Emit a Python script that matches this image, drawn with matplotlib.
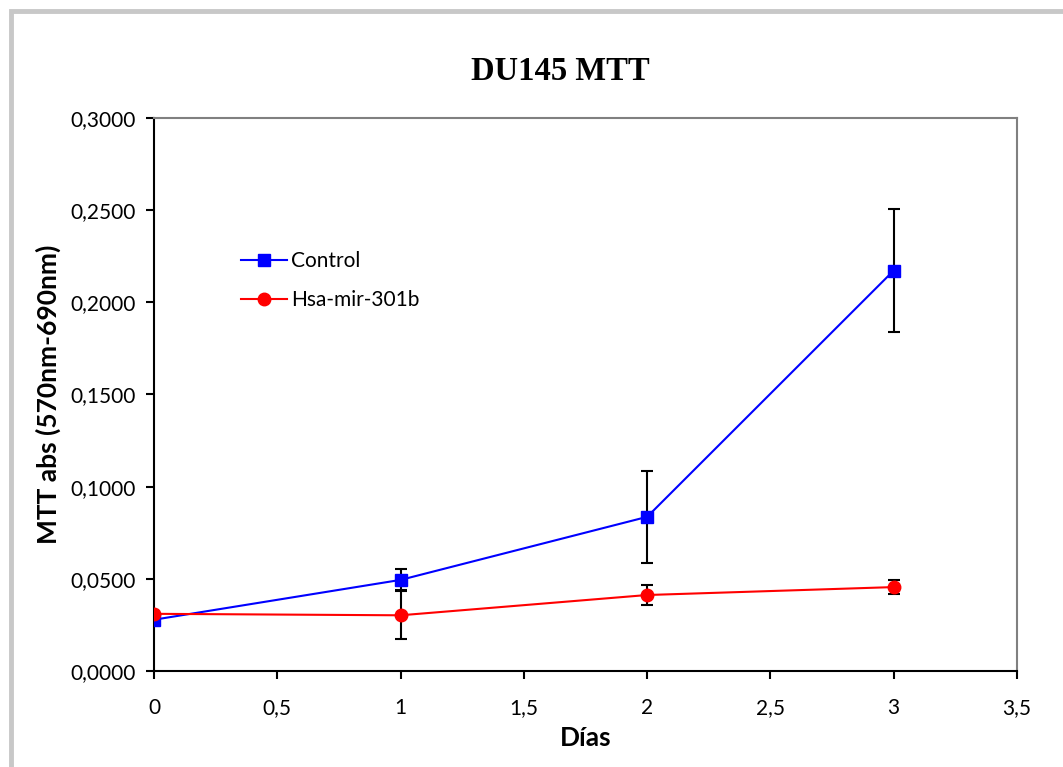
"""DU145 MTT assay: control vs Hsa-mir-301b over days."""

import matplotlib

matplotlib.use("Agg")
import matplotlib.pyplot as plt
from matplotlib.patches import Rectangle
from matplotlib.ticker import FuncFormatter

dias = [0, 1, 2, 3]
control = [0.0278, 0.0494, 0.0836, 0.2172]
control_err = [0.0, 0.0057, 0.0250, 0.0335]
mir301b = [0.0310, 0.0302, 0.0412, 0.0455]
mir301b_err = [0.0, 0.0130, 0.0055, 0.0040]

plt.rcParams["font.family"] = ["Lato", "DejaVu Sans"]

fig = plt.figure(figsize=(10.63, 7.67), dpi=100)
ax = fig.add_axes([0.1449, 0.1252, 0.8118, 0.7211])

# light grey chart frame, as in the spreadsheet export
fig.patches.append(Rectangle((0.0100, -0.01), 1.2, 0.9953, transform=fig.transFigure,
                             fill=False, edgecolor="#c8c8c8", linewidth=3.5))

ax.errorbar(dias, control, yerr=control_err, fmt="none", ecolor="black",
            elinewidth=1.5, capsize=4.5, capthick=1.5, zorder=2)
ax.errorbar(dias, mir301b, yerr=mir301b_err, fmt="none", ecolor="black",
            elinewidth=1.5, capsize=4.5, capthick=1.5, zorder=2)
ax.plot(dias, control, color="#0000ff", marker="s", markersize=9, linewidth=1.5,
        label="Control", zorder=3)
ax.plot(dias, mir301b, color="#ff0000", marker="o", markersize=9, linewidth=1.5,
        label="Hsa-mir-301b", zorder=3)

ax.set_xlim(0, 3.5)
ax.set_ylim(0, 0.3)
ax.set_xticks([0, 0.5, 1, 1.5, 2, 2.5, 3, 3.5])
ax.set_yticks([0, 0.05, 0.1, 0.15, 0.2, 0.25, 0.3])
ax.xaxis.set_major_formatter(FuncFormatter(lambda v, _: f"{v:g}".replace(".", ",")))
ax.yaxis.set_major_formatter(FuncFormatter(lambda v, _: f"{v:.4f}".replace(".", ",")))
ax.tick_params(direction="out", length=6, width=1.5, labelsize=15)
ax.tick_params(axis="x", pad=13.5)
ax.tick_params(axis="y", pad=7)

for side in ("left", "bottom"):
    ax.spines[side].set_color("black")
    ax.spines[side].set_linewidth(1.5)
for side in ("top", "right"):
    ax.spines[side].set_color("#808080")
    ax.spines[side].set_linewidth(1.5)

ax.set_xlabel("Días", fontsize=19, fontweight="bold", labelpad=6)
ax.set_ylabel("MTT abs (570nm-690nm)", fontsize=19, fontweight="bold", labelpad=7)

fig.text(0.527, 0.896, "DU145 MTT", fontsize=23.5, fontweight="bold",
         family=["Liberation Serif"], ha="center", va="baseline")

ax.legend(loc="upper left", bbox_to_anchor=(0.079, 0.793), frameon=False, fontsize=15,
          handlelength=2.2, handletextpad=0.2, labelspacing=0.9)

fig.savefig("out.png", dpi=100)
plt.close(fig)
